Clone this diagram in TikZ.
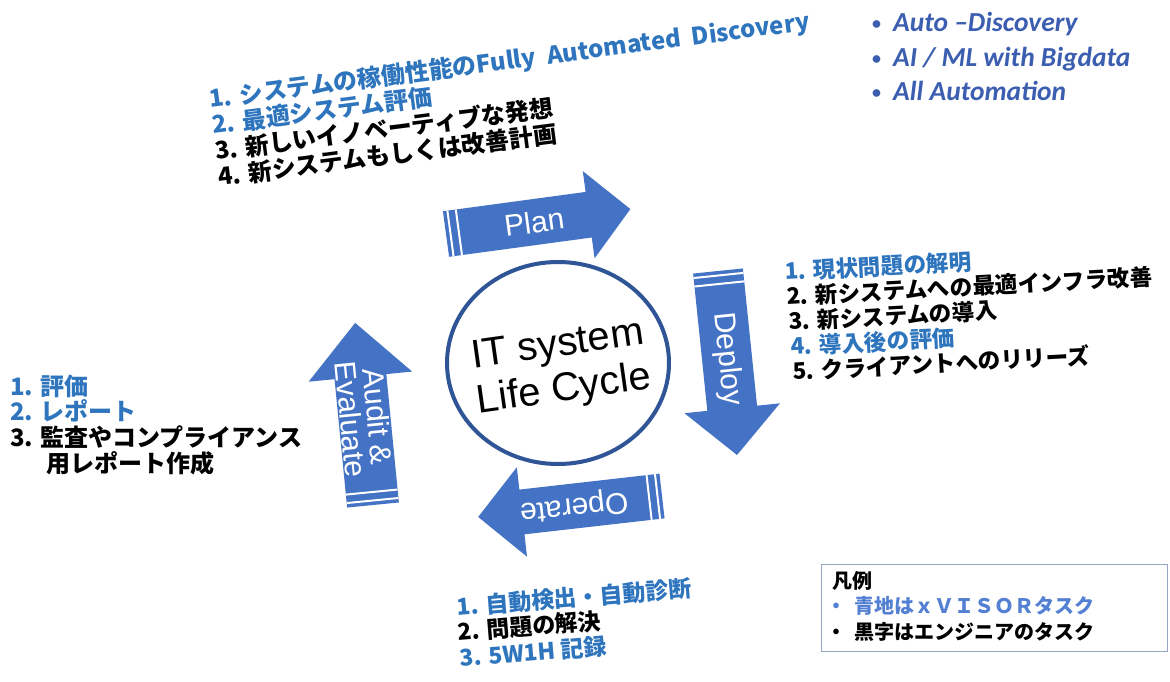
\documentclass[tikz,border=0pt]{standalone}
\usepackage{fontspec}
\setmainfont{Liberation Sans}
\newfontfamily\jp{Noto Sans CJK JP}
\newfontfamily\calfont{Carlito}
\usetikzlibrary{shapes.geometric}

\definecolor{itemblue}{RGB}{46,117,190}
\definecolor{arrowblue}{RGB}{68,114,196}
\definecolor{ringblue}{RGB}{47,85,151}
\definecolor{keyblue}{RGB}{60,94,176}
\definecolor{legendblue}{RGB}{84,128,212}
\definecolor{legendframe}{RGB}{150,165,195}

\tikzset{
  jtxt/.style={font=\jp\bfseries\fontsize{24}{26}\selectfont, anchor=base west, inner sep=0pt},
  jdeploy/.style={font=\jp\bfseries\fontsize{22.6}{25}\selectfont, anchor=base west, inner sep=0pt, rotate=3.1},
  jsmall/.style={font=\jp\bfseries\fontsize{23}{25}\selectfont, anchor=base west, inner sep=0pt},
  jlegend/.style={font=\jp\bfseries\fontsize{20}{22}\selectfont, anchor=base west, inner sep=0pt},
  keytxt/.style={font=\calfont\bfseries\itshape\fontsize{27.5}{30}\selectfont, text=keyblue, anchor=base west, inner sep=0pt},
  arrowlabel/.style={text=white, font=\fontsize{30}{27}\selectfont, transform shape, align=center, inner sep=0pt},
  % block arrow: length, shaft half width, head half width, head length, label rotation, label
  pics/blockarrow/.style n args={6}{code={
    \fill[arrowblue] (0,-#2) -- ({#1-#4},-#2) -- ({#1-#4},-#3) -- (#1,0)
       -- ({#1-#4},#3) -- ({#1-#4},#2) -- (0,#2) -- cycle;
    \draw[white, line width=2pt] (4.5,-#2) -- (4.5,#2) (13,-#2) -- (13,#2);
    \node[arrowlabel, rotate=#5] (-label) at ({#1/2-4},0) {#6};
  }}
}
\newcommand\keydot{\makebox[21pt][l]{\fontsize{18}{18}\selectfont\upshape\raisebox{2pt}{•}}}

\begin{document}
\begin{tikzpicture}[x=1pt, y=-1pt]
\useasboundingbox[fill=white] (0,0) rectangle (1170,681);

% centre ring
\node[ellipse, draw=ringblue, line width=4pt, minimum width=222, minimum height=202, inner sep=0pt] (ring) at (558,363) {};
\node[font=\fontsize{40}{45}\selectfont, align=center, rotate=8, inner sep=0pt] (title) at (561,369) {IT system\\Life Cycle};

% the four phase arrows
\pic[rotate=7.7]   (plan)    at (446,234) {blockarrow={186}{23}{44}{42}{0}{Plan}};
\pic[rotate=-84.1] (deploy)  at (718,271) {blockarrow={185}{25}{48}{47}{0}{Deploy}};
\pic[rotate=186.5] (operate) at (662,496) {blockarrow={185}{22.5}{45}{44}{0}{Operate}};
\pic[rotate=95.6]  (audit)   at (373,505) {blockarrow={183}{26}{52}{54}{180}{Audit \&\\Evaluate}};

% plan tasks
\node[jtxt, text=itemblue, rotate=7.4] (tl1) at (210,108) {1. システムの稼働性能のFully~~Automated~~Discovery};
\node[jtxt, text=itemblue, rotate=7.4] (tl2) at (213,134) {2. 最適システム評価};
\node[jtxt, rotate=7.4] (tl3) at (216,160) {3. 新しいイノベーティブな発想};
\node[jtxt, rotate=7.4] (tl4) at (219,186) {4. 新システムもしくは改善計画};

% key technologies
\node[keytxt] (k1) at (872,31)  {\keydot Auto –Discovery};
\node[keytxt] (k2) at (872,66)  {\keydot AI / ML with Bigdata};
\node[keytxt] (k3) at (872,100) {\keydot All Automation};

% deploy tasks
\node[jdeploy, text=itemblue] (d1) at (785,280) {1. 現状問題の解明};
\node[jdeploy] (d2) at (787,305) {2. 新システムへの最適インフラ改善};
\node[jdeploy] (d3) at (789,330) {3. 新システムの導入};
\node[jdeploy, text=itemblue] (d4) at (791,355) {4. 導入後の評価};
\node[jdeploy] (d5) at (793,380) {5. クライアントへのリリーズ};

% audit tasks
\node[jtxt, text=itemblue] (a1) at (10,395) {1. 評価};
\node[jtxt, text=itemblue] (a2) at (10,420) {2. レポート};
\node[jtxt] (a3) at (10,446) {3. 監査やコンプライアンス};
\node[jtxt] (a4) at (46,472) {用レポート作成};

% operate tasks
\node[jsmall, text=itemblue, rotate=4.7] (o1) at (457,616) {1. 自動検出・自動診断};
\node[jsmall, rotate=4.7] (o2) at (458,641) {2. 問題の解決};
\node[jsmall, text=itemblue, rotate=4.7] (o3) at (460,667) {3. 5W1H 記録};

% legend
\node[draw=legendframe, line width=0.8pt, minimum width=346, minimum height=87, anchor=north west, inner sep=0pt] (legend) at (821,564) {};
\node[jlegend] (lg0) at (832,588) {凡例};
\node[jlegend, text=legendblue] (lg1) at (826,613) {・\hspace{8pt}青地はｘＶＩＳＯＲタスク};
\node[jlegend] (lg2) at (826,639) {・\hspace{8pt}黒字はエンジニアのタスク};
\end{tikzpicture}
\end{document}
